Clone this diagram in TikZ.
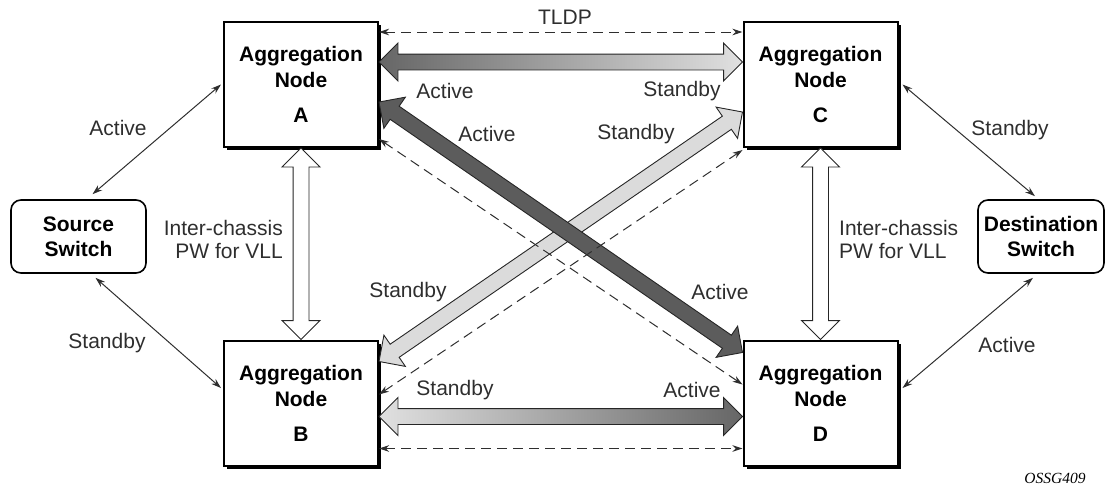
\documentclass[tikz,border=0pt]{standalone}
\usepackage{fontspec}
\setmainfont{Liberation Sans}
\newfontfamily\tagfont{Liberation Serif}
\usetikzlibrary{calc,shapes.arrows,shadows,arrows.meta}

\definecolor{txtgray}{gray}{0.18}
\definecolor{darkarrow}{gray}{0.36}
\definecolor{lightarrow}{gray}{0.86}
\definecolor{shadedark}{gray}{0.40}
\definecolor{shadelight}{gray}{0.88}

\tikzset{
  aggnode/.style={draw,line width=2pt,fill=white,minimum width=154pt,minimum height=125pt,inner sep=0pt,align=center,
    font=\fontsize{21}{26}\selectfont\bfseries,
    drop shadow={shadow xshift=3pt,shadow yshift=-3pt,fill=black,opacity=1}},
  swnode/.style={draw,line width=1.6pt,rounded corners=10pt,minimum height=73pt,inner sep=0pt,align=center,
    font=\fontsize{21}{25}\selectfont\bfseries},
  lbl/.style={text=txtgray,font=\fontsize{21}{23}\selectfont,inner sep=0pt},
  fatarrow/.style={double arrow,draw=black!85,line width=0.9pt,inner xsep=0pt,inner ysep=7.5pt,minimum width=0pt,
    double arrow head extend=11pt,double arrow tip angle=90,outer sep=0pt},
  thinlink/.style={{Stealth[length=10pt,width=6.5pt]}-{Stealth[length=10pt,width=6.5pt]},line width=1pt,draw=txtgray},
  tldpline/.style={thinlink,dash pattern=on 10pt off 6pt}
}

% fat arrow node from one coordinate to another
\newcommand\fatlink[4]{\path let \p1=($(#4)-(#3)$) in
  node[fatarrow,#2,minimum height={veclen(\x1,\y1)},rotate={atan2(\y1,\x1)}] (#1) at ($(#3)!0.5!(#4)$) {};}

\begin{document}
\begin{tikzpicture}[x=1pt,y=-1pt]
\useasboundingbox (0,0) rectangle (1106,496);

% nodes
\node[aggnode] (A) at (301,84.5) {Aggregation\\Node\\[9pt]A};
\node[aggnode] (C) at (820.5,84.5) {Aggregation\\Node\\[9pt]C};
\node[aggnode] (B) at (301,403) {Aggregation\\Node\\[9pt]B};
\node[aggnode] (D) at (820.5,403) {Aggregation\\Node\\[9pt]D};
\node[swnode,minimum width=135pt] (src) at (78.5,236.5) {Source\\Switch};
\node[swnode,minimum width=126pt] (dst) at (1041,236.5) {Destination\\Switch};

% end points on the boxes
\coordinate (acA) at ([yshift=-41pt]A.north east);
\coordinate (acC) at ([yshift=-41pt]C.north west);
\coordinate (bdB) at ([yshift=-77pt]B.north east);
\coordinate (bdD) at ([yshift=-77pt]D.north west);
\coordinate (adA) at ([yshift=-81pt]A.north east);
\coordinate (adD) at ([yshift=-13pt]D.north west);
\coordinate (cbC) at ([yshift=-91pt]C.north west);
\coordinate (cbB) at ([yshift=-22pt]B.north east);

% fat arrows
\fatlink{icab}{fill=white}{A.south}{B.north}
\fatlink{iccd}{fill=white}{C.south}{D.north}
\fatlink{pwac}{left color=shadedark,right color=shadelight}{acA}{acC}
\fatlink{pwbd}{left color=shadelight,right color=shadedark}{bdB}{bdD}
\fatlink{pwcb}{fill=lightarrow}{cbC}{cbB}
\fatlink{pwad}{fill=darkarrow}{adA}{adD}

% tldp sessions
\draw[tldpline] ([yshift=-11pt]A.north east) -- ([yshift=-11pt]C.north west);
\draw[tldpline] ([yshift=-109pt]B.north east) -- ([yshift=-109pt]D.north west);
\draw[tldpline] ([yshift=9pt]A.south east) -- ([yshift=-45pt]D.north west);
\draw[tldpline] ([yshift=-55pt]B.north east) -- ([yshift=-2pt]C.south west);

% access links
\draw[thinlink] ([xshift=14pt,yshift=5pt]src.north) -- ([xshift=-2pt]A.west);
\draw[thinlink] ([xshift=17pt,yshift=-4pt]src.south) -- ([xshift=-2pt,yshift=15pt]B.west);
\draw[thinlink] ([xshift=4pt]C.east) -- ([xshift=-6pt,yshift=3pt]dst.north);
\draw[thinlink] ([xshift=4pt,yshift=15pt]D.east) -- ([xshift=-8pt,yshift=-4pt]dst.south);

% labels
\node[lbl] (tldp) at (565,17) {TLDP};
\node[lbl] (lac1) at (445,91) {Active};
\node[lbl] (lac2) at (682,91) {Standby};
\node[lbl] (lad) at (487,134) {Active};
\node[lbl] (lcb) at (636,134) {Standby};
\node[lbl] (lbc) at (408,292) {Standby};
\node[lbl] (lda) at (720,292) {Active};
\node[lbl] (lbd1) at (455,390) {Standby};
\node[lbl] (lbd2) at (692,390) {Active};
\node[lbl] (lsa) at (118,128) {Active};
\node[lbl] (lsb) at (107,343) {Standby};
\node[lbl] (lcd) at (1010,130) {Standby};
\node[lbl] (ldd) at (1007,345) {Active};
\node[lbl,align=right,anchor=east] (icl) at (283,239.5) {Inter-chassis\\PW for VLL};
\node[lbl,align=left,anchor=west] (icr) at (839,239.5) {Inter-chassis\\PW for VLL};
\node[font=\tagfont\itshape\fontsize{15.5}{18}\selectfont,inner sep=0pt] (tag) at (1055,478) {OSSG409};
\end{tikzpicture}
\end{document}
